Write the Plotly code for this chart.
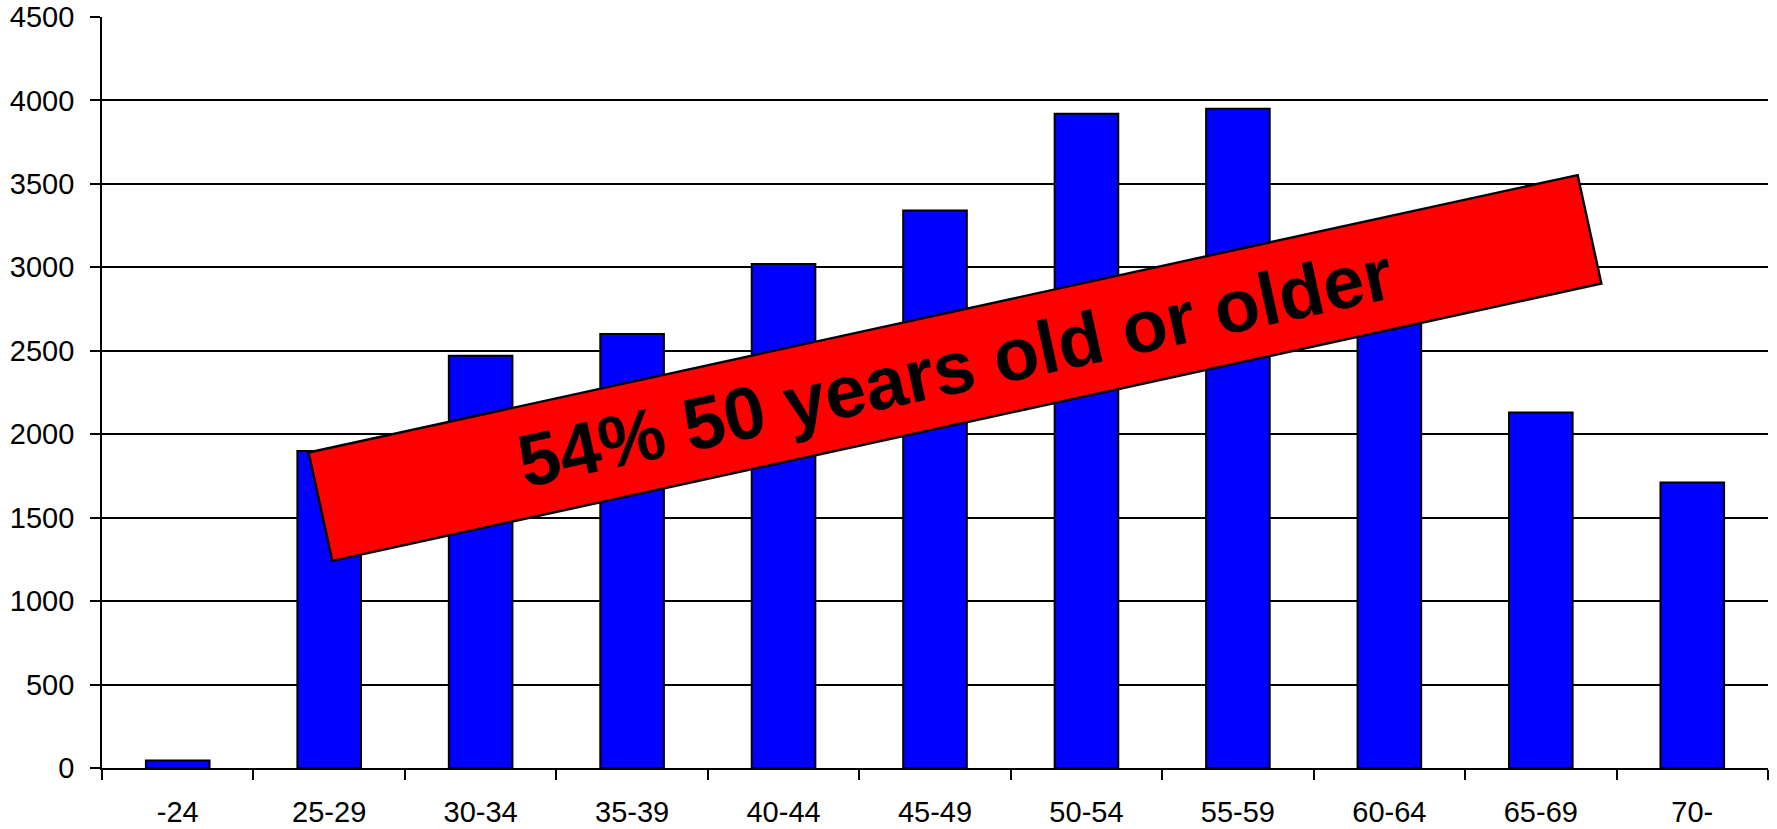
import math
import plotly.graph_objects as go

# Members by age group
age_groups = ["-24", "25-29", "30-34", "35-39", "40-44", "45-49",
              "50-54", "55-59", "60-64", "65-69", "70-"]
members = [45, 1900, 2470, 2600, 3020, 3340, 3920, 3950, 3000, 2130, 1710]
y_ticks = [0, 500, 1000, 1500, 2000, 2500, 3000, 3500, 4000, 4500]
banner_text = "54% 50 years old or older"

W, H = 1777, 829
M_L, M_R, M_T, M_B = 102, 9, 17, 61
PW, PH = W - M_L - M_R, H - M_T - M_B

FONT = "Arial, Liberation Sans, sans-serif"

fig = go.Figure(
    go.Bar(
        x=age_groups,
        y=members,
        marker=dict(color="#0000FF", line=dict(color="black", width=2)),
        hoverinfo="x+y",
    )
)


def to_paper(px, py):
    return (px - M_L) / PW, (H - M_B - py) / PH


# Tilted red banner: centre, size and angle in screen pixels
cx, cy = 955, 368
blen, bh = 1299, 111
ang = math.radians(12.33)
ux, uy = math.cos(ang), -math.sin(ang)      # along the banner
vx, vy = math.sin(ang), math.cos(ang)       # across (downwards)
corners = []
for s, t in [(-1, -1), (1, -1), (1, 1), (-1, 1)]:
    px = cx + s * blen / 2 * ux + t * bh / 2 * vx
    py = cy + s * blen / 2 * uy + t * bh / 2 * vy
    corners.append(to_paper(px, py))
path = "M " + " L ".join(f"{x:.5f},{y:.5f}" for x, y in corners) + " Z"

fig.add_shape(
    type="path", path=path, xref="paper", yref="paper",
    fillcolor="#FF0000", line=dict(color="black", width=2.4), layer="above",
)
tx, ty = to_paper(cx, cy)
fig.add_annotation(
    x=tx, y=ty, xref="paper", yref="paper",
    text=banner_text, showarrow=False, textangle=-12.33,
    xanchor="center", yanchor="middle",
    font=dict(family=FONT, size=74, color="black", weight="bold"),
)

fig.update_layout(
    width=W, height=H,
    margin=dict(l=M_L, r=M_R, t=M_T, b=M_B, autoexpand=False),
    paper_bgcolor="white", plot_bgcolor="white",
    bargap=0.58,
    showlegend=False,
    font=dict(family=FONT, size=29, color="black"),
)
fig.update_xaxes(
    type="category", automargin=False,
    showline=True, linecolor="black", linewidth=1.8,
    ticks="outside", tickson="boundaries", ticklen=10, tickwidth=1.8, tickcolor="black",
    showgrid=False,
    tickfont=dict(family=FONT, size=29, color="black"),
    ticklabelstandoff=17,
)
fig.update_yaxes(
    range=[0, 4500], tickvals=y_ticks, automargin=False,
    showline=True, linecolor="black", linewidth=1.8,
    ticks="outside", ticklen=10, tickwidth=1.8, tickcolor="black",
    showgrid=True, gridcolor="black", gridwidth=1.7,
    zeroline=False,
    tickfont=dict(family=FONT, size=29, color="black"),
    ticklabelstandoff=10,
)

fig.write_html("out.html")
